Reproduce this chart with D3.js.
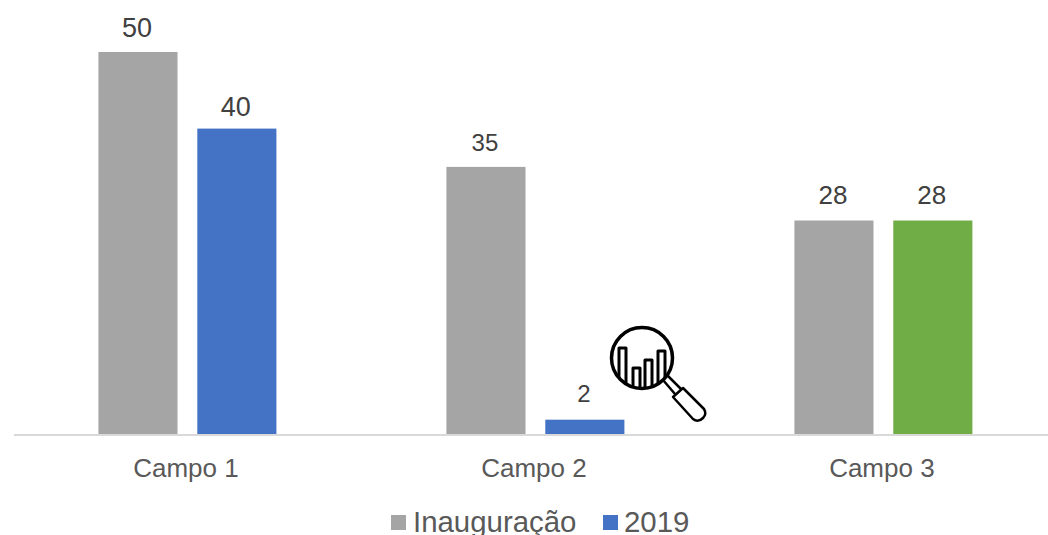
<!DOCTYPE html>
<html>
<head>
<meta charset="utf-8">
<script src="https://cdn.jsdelivr.net/npm/d3@7"></script>
<style>
  html, body { margin: 0; padding: 0; background: #fff; overflow: hidden; }
  text { font-family: "Liberation Sans", Arial, sans-serif; }
</style>
</head>
<body>
<div id="chart"></div>
<script>
const WIDTH  = 1048;
const HEIGHT = 535;

const BASELINE = 435;
const TOP      = 52;

const categories = ['Campo 1', 'Campo 2', 'Campo 3'];
const series     = ['Inauguração', '2019'];
const inauguracao = [50, 35, 28];
const atual       = [40, 2, 28];

const GREY  = '#a5a5a5';
const BLUE  = '#4472c4';
const GREEN = '#70ad47';
const barColors2019 = [BLUE, BLUE, GREEN];
const labelSizes = [[27, 27], [24, 24], [26, 26]];
const labelGaps  = [[15, 13], [16, 18], [17, 17]];

var svg = d3.select('#chart').append('svg')
  .attr('width', WIDTH)
  .attr('height', HEIGHT)
  .style('display', 'block');

var x0 = d3.scaleBand()
  .domain(categories)
  .range([13.4, 1057.4])
  .paddingInner(0.4885)
  .paddingOuter(0.2443);
var x1 = d3.scaleBand()
  .domain(series)
  .range([0, x0.bandwidth()])
  .paddingInner(0.2);
var y = d3.scaleLinear()
  .domain([0, 50])
  .range([BASELINE, TOP]);

// One group per category
var groups = svg.selectAll('.campo')
    .data(categories)
  .enter().append('g')
    .attr('class', 'campo')
    .attr('transform', d => `translate(${x0(d)},0)`);

groups.each(function(cat, i) {
  let g = d3.select(this);
  let rows = [
    { name: series[0], value: inauguracao[i], color: GREY },
    { name: series[1], value: atual[i], color: barColors2019[i] }
  ];

  g.selectAll('rect')
      .data(rows)
    .enter().append('rect')
      .attr('x', d => x1(d.name))
      .attr('y', d => y(d.value))
      .attr('width', x1.bandwidth())
      .attr('height', d => BASELINE - y(d.value))
      .style('fill', d => d.color);

  g.selectAll('text')
      .data(rows)
    .enter().append('text')
      .attr('x', d => x1(d.name) + x1.bandwidth() / 2 - 1)
      .attr('y', (d, j) => y(d.value) - labelGaps[i][j])
      .attr('text-anchor', 'middle')
      .attr('font-size', (d, j) => labelSizes[i][j])
      .style('fill', '#404040')
      .text(d => d.value);
});

// Category axis
var axis = svg.append('g')
  .attr('transform', `translate(0,${BASELINE - 0.5})`)
  .call(d3.axisBottom(x0).tickSize(0).tickPadding(24));
axis.select('.domain')
  .style('stroke', '#d9d9d9')
  .style('stroke-width', 2);
axis.selectAll('text')
  .attr('font-size', 26)
  .attr('dx', -1.5)
  .style('font-family', '"Liberation Sans", Arial, sans-serif')
  .style('fill', '#595959');

// Legend
var legendItems = [
  { name: series[0], color: GREY, box: 391, text: 413 },
  { name: series[1], color: BLUE, box: 603, text: 624 }
];
var legend = svg.selectAll('.legend')
    .data(legendItems)
  .enter().append('g')
    .attr('class', 'legend');
legend.append('rect')
  .attr('x', d => d.box)
  .attr('y', 515)
  .attr('width', 15)
  .attr('height', 15)
  .style('fill', d => d.color);
legend.append('text')
  .attr('x', d => d.text)
  .attr('y', 532)
  .attr('font-size', 29.4)
  .style('fill', '#595959')
  .text(d => d.name);

// Magnifier icon
var icon = svg.append('g')
  .attr('transform', 'translate(590,310)')
  .style('fill', 'none')
  .style('stroke', '#000')
  .style('stroke-linejoin', 'round');
icon.append('circle')
  .attr('cx', 52)
  .attr('cy', 48)
  .attr('r', 30.5)
  .style('fill', '#fff');
// Mini bars are clipped by the lens
icon.append('clipPath')
  .attr('id', 'lens')
  .append('circle')
  .attr('cx', 52)
  .attr('cy', 48)
  .attr('r', 30.5);
icon.append('g')
  .attr('clip-path', 'url(#lens)')
  .selectAll('.minibar')
    .data([[29, 38], [43, 58], [55, 50], [68, 41]])
  .enter().append('rect')
    .attr('class', 'minibar')
    .attr('x', d => d[0])
    .attr('y', d => d[1])
    .attr('width', 7)
    .attr('height', 60)
    .style('stroke-width', 3);
icon.append('circle')
  .attr('cx', 52)
  .attr('cy', 48)
  .attr('r', 30.5)
  .style('stroke-width', 3.5);
icon.append('path')
  .attr('d', 'M73,70 L85,84 M78,66 L91,79')
  .style('stroke-width', 2.5);
icon.append('path')
  .attr('d', 'M83,87 L93,78 L114,99 Q117,104 113,108 Q108,113 103,109 Z')
  .style('fill', '#fff')
  .style('stroke-width', 2.5);
</script>
</body>
</html>
